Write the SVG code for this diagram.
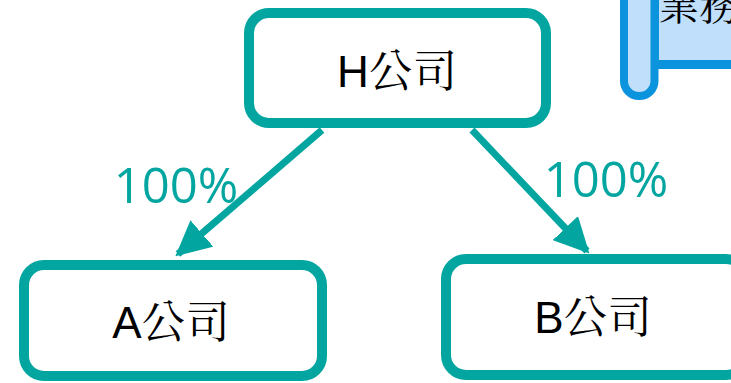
<svg xmlns="http://www.w3.org/2000/svg" width="731" height="383" viewBox="0 0 731 383">
<style>
.box{fill:#fff;stroke:#02A59F;stroke-width:10}
.lbl{font-family:"Liberation Sans",Arial,"Noto Serif CJK TC",serif;font-size:44px;fill:#000;text-anchor:middle}
.pct{font-family:"Open Sans","Noto Sans",sans-serif;font-size:49px;fill:#02A59F;text-anchor:middle}
.edge{stroke:#02A59F;stroke-width:7;fill:none}
</style>
<defs>
<marker id="ah" viewBox="0 0 10 10" refX="9" refY="5" markerWidth="5" markerHeight="5" markerUnits="strokeWidth" orient="auto">
<path d="M0,0 L10,5 L0,10 Z" fill="#02A59F"/>
</marker>
</defs>
<g id="note">
<path d="M654.5,-20 L740,-20 L740,64.5 L654.5,64.5 Z" fill="#BFDFFB" stroke="#0B93DD" stroke-width="9"/>
<rect x="624" y="-60" width="30.5" height="156" rx="15" fill="#BFDFFB" stroke="#0B93DD" stroke-width="8"/>
<text x="659" y="20" font-family="'Noto Serif CJK TC','Noto Sans CJK TC',serif" font-size="40" fill="#000">業務</text>
</g>
<g id="connectors">
<line class="edge" x1="322" y1="130" x2="178" y2="254" marker-end="url(#ah)"/>
<line class="edge" x1="472" y1="130" x2="587" y2="251" marker-end="url(#ah)"/>
<text class="pct" x="176" y="203">100%</text>
<text class="pct" x="606" y="197">100%</text>
</g>
<g id="H">
<rect class="box" x="249" y="13" width="297" height="110" rx="20"/>
<text class="lbl" x="397" y="87">H公司</text>
</g>
<g id="A">
<rect class="box" x="24" y="265" width="298" height="111" rx="20"/>
<text class="lbl" x="171" y="338">A公司</text>
</g>
<g id="B">
<rect class="box" x="446" y="259" width="300" height="116" rx="20"/>
<text class="lbl" x="593" y="333">B公司</text>
</g>
</svg>
